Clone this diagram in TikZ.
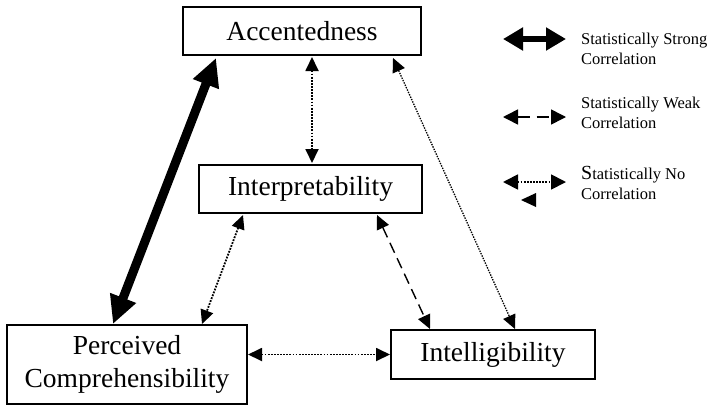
\documentclass[tikz,border=0pt]{standalone}
\usepackage{fontspec}
\setmainfont{Liberation Serif}
\usetikzlibrary{arrows.meta}
\tikzset{factor/.style={
    draw, line width=1.6pt, fill=white,
    inner sep=0pt, outer sep=0pt, align=center,
    font=\fontsize{27.5}{33}\selectfont
  },
  legendtext/.style={
    anchor=west, align=left, inner sep=0pt,
    font=\fontsize{16.5}{20}\selectfont
  },
  strongcorr/.style={
    line width=9pt, {Triangle[length=28pt,width=26pt]}-{Triangle[length=28pt,width=26pt]}
  },
  weakcorr/.style={
    line width=1.4pt, dash pattern=on 11pt off 6pt,
    {Triangle[length=14pt,width=13pt]}-{Triangle[length=14pt,width=13pt]}
  },
  nocorr/.style={
    line width=1.8pt, dash pattern=on 1.8pt off 1.3pt,
    {Triangle[length=14pt,width=13pt]}-{Triangle[length=14pt,width=13pt]}
  }
}
\begin{document}
\begin{tikzpicture}[x=1pt, y=-1pt]
    \useasboundingbox (0,0) rectangle (719,405);
    % the four factors
    \node[factor, minimum width=238pt, minimum height=48pt] (acc) at (302,31) {Accentedness};
    \node[factor, minimum width=223pt, minimum height=48pt] (interp) at (310.5,189) {Interpretability};
    \node[factor, minimum width=240pt, minimum height=79pt] (perc) at (127,364.5) {Perceived\\Comprehensibility};
    \node[factor, minimum width=204pt, minimum height=49pt] (intel) at (493,354.5) {Intelligibility};
    % correlations
    \draw[strongcorr] ([xshift=33pt,yshift=-3pt]acc.south west) -- ([xshift=106pt,yshift=1pt]perc.north west);
    \draw[nocorr] ([xshift=10pt,yshift=-2pt]acc.south) -- ([xshift=1.5pt,yshift=2pt]interp.north);
    \draw[nocorr, line width=1.3pt, dash pattern=on 1.4pt off 1.2pt] ([xshift=-28pt,yshift=-3pt]acc.south east) -- ([xshift=124pt,yshift=1pt]intel.north west);
    \draw[nocorr] ([xshift=44pt,yshift=-2pt]interp.south west) -- ([xshift=195pt,yshift=1pt]perc.north west);
    \draw[weakcorr] ([xshift=-45pt,yshift=-2pt]interp.south east) -- ([xshift=39pt,yshift=1pt]intel.north west);
    \draw[nocorr] ([xshift=1pt]perc.east |- intel.west) -- ([xshift=-1pt]intel.west);
    % legend
    \coordinate (strongL) at (503,39);
    \coordinate (strongR) at (566,39);
    \coordinate (weakL) at (503,117);
    \coordinate (weakR) at (566,117);
    \coordinate (noL) at (503,182);
    \coordinate (noR) at (566,182);
    \draw[line width=6pt, {Triangle[length=20pt,width=22pt]}-{Triangle[length=20pt,width=22pt]}] (strongL) -- (strongR);
    \draw[line width=1.6pt, dash pattern=on 12pt off 7pt, {Triangle[length=15pt,width=15pt]}-{Triangle[length=15pt,width=15pt]}] (weakL) -- (weakR);
    \draw[nocorr, {Triangle[length=15pt,width=15pt]}-{Triangle[length=15pt,width=15pt]}] (noL) -- (noR);
    \fill ([xshift=18pt,yshift=-18pt]noL) -- ++(15,-7) -- ++(0,14) -- cycle;
    \node[legendtext] (strongtxt) at (581,49) {Statistically Strong\\Correlation};
    \node[legendtext] (weaktxt) at (581,113) {Statistically Weak\\Correlation};
    \node[legendtext] (notxt) at (581,183) {{\fontsize{20}{20}\selectfont S}tatistically No\\Correlation};
\end{tikzpicture}
\end{document}
